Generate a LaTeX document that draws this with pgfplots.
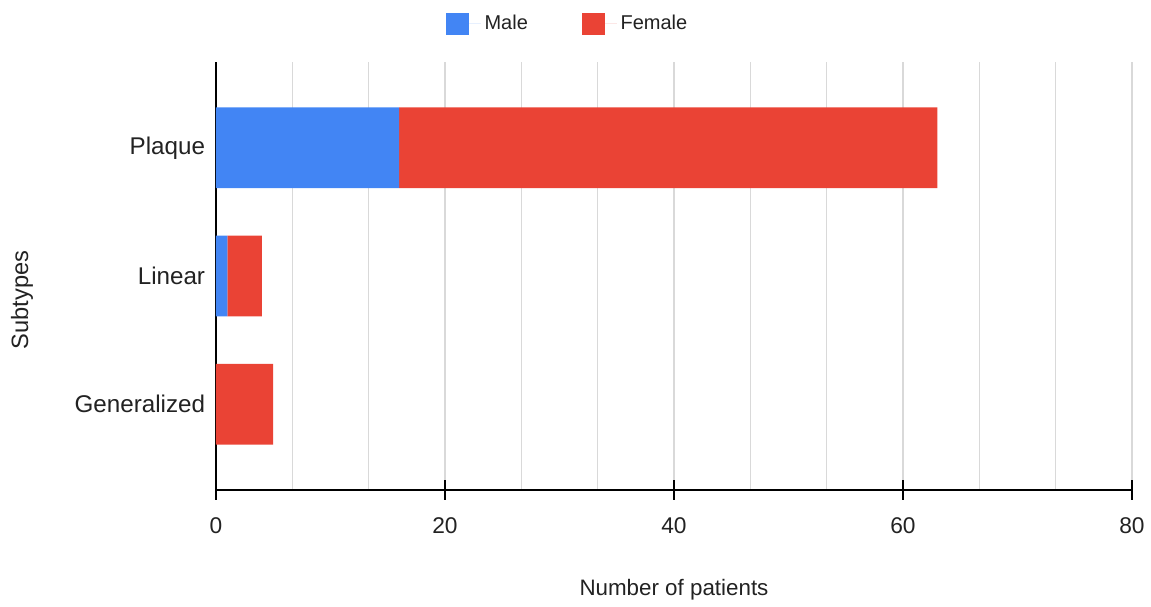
\documentclass[border=0pt]{standalone}
\usepackage{fontspec}
\setmainfont{Liberation Sans}
\usepackage{pgfplots}
\pgfplotsset{compat=1.18}
\definecolor{gblue}{HTML}{4285F4}
\definecolor{gred}{HTML}{EA4335}
\definecolor{txt}{HTML}{222222}
\definecolor{grd}{HTML}{D9D9D9}
\begin{document}
\begin{tikzpicture}[x=1pt,y=1pt]
\pgfmathsetmacro{\s}{0.55}
\begin{axis}[
  at={(0,0)}, anchor=south west,
  scale only axis,
  width=503.8pt, height=235.4pt,
  xbar stacked,
  bar width=0.63,
  xmin=0, xmax=80,
  ymin=-0.67, ymax=2.67,
  ytick={0,1,2},
  yticklabels={Generalized,Linear,Plaque},
  xtick={0,20,40,60,80},
  minor x tick num=2,
  axis lines*=left,
  axis line style={black, line width=0.8pt},
  x axis line style={-}, y axis line style={-},
  xmajorgrids, xminorgrids,
  major grid style={grd, line width=0.6pt},
  minor grid style={grd, line width=0.6pt},
  ytick style={draw=none},
  minor x tick style={draw=none},
  major x tick style={black, line width=0.8pt},
  tick align=center,
  major tick length=11pt,
  tick label style={text=txt},
  /pgf/number format/assume math mode=true,
  xticklabel style={yshift=-6pt, font=\fontsize{12.5}{14}\selectfont},
  yticklabel style={xshift=3pt, font=\fontsize{13.3}{15}\selectfont},
  xlabel={Number of patients},
  xlabel style={font=\fontsize{12.3}{14}\selectfont, text=txt, yshift=-18.5pt},
  legend style={at={(0.385,1)}, anchor=south, yshift=12pt, draw=none, fill=none,
    legend columns=2, font=\fontsize{11}{13}\selectfont, text=txt,
    /tikz/every even column/.append style={column sep=28pt},
    /tikz/every odd column/.append style={column sep=0pt},
    legend cell align=left},
  legend image code/.code={\fill[#1] (0pt,-6.25pt) rectangle (12.5pt,6.25pt); \path (12.5pt,0) -- (19pt,0);},
  clip=false,
]
\addplot[fill=gblue, draw=none] coordinates {(0,0) (1,1) (16,2)};
\addplot[fill=gred, draw=none] coordinates {(5,0) (3,1) (47,2)};
\legend{Male,Female}
\end{axis}
\node[rotate=90, font=\fontsize{13}{14}\selectfont, text=txt] at ({(22-216)*\s},{(490-300)*\s}) {Subtypes};
\path ({-216*\s},{-(605-490)*\s}) rectangle ({(1151-216)*\s},{490*\s});
\end{tikzpicture}
\end{document}
